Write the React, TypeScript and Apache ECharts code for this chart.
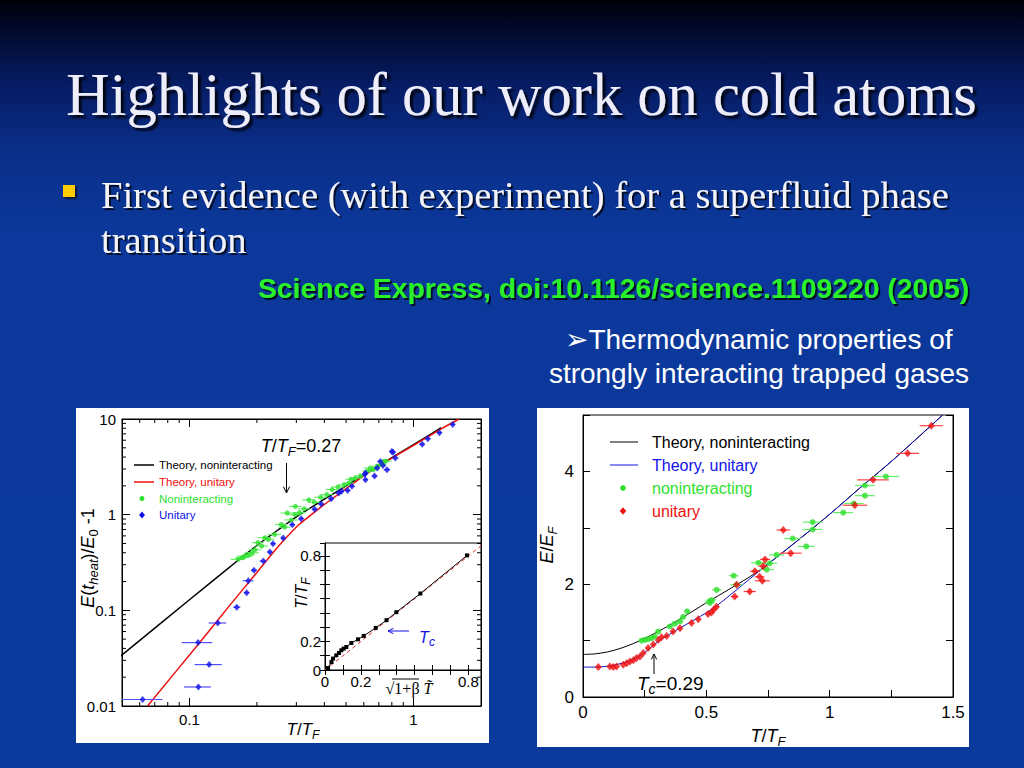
import React, { useEffect, useRef } from 'react';
import * as echarts from 'echarts';

const SANS = '"Liberation Sans", Arial, Helvetica, sans-serif';
const SERIF = '"Liberation Serif", "Times New Roman", serif';

// ---------- Left chart (log-log) ----------
const L_THEORY_NONINT = [[0.0487,0.0325],[0.1,0.129],[0.1665,0.34],[0.2,0.477],[0.25,0.7],[0.3,0.95],[0.4,1.45],[0.5,2.0],[0.6,2.6],[0.8,3.95],[1.0,5.4],[1.33,8.1]];
const L_THEORY_UNI = [[0.065,0.01],[0.1093,0.044],[0.15,0.11],[0.2,0.249],[0.238,0.41],[0.26,0.52],[0.282,0.64],[0.31,0.8],[0.35,1.0],[0.4,1.28],[0.45,1.56],[0.5,1.87],[0.6,2.55],[0.8,3.9],[1.0,5.3],[1.33,7.9],[1.6,10]];
// [x, y, half width of error bar]
const L_NONINT_DATA = [[0.165,0.341,0.012],[0.172,0.355,0.012],[0.177,0.369,0.014],[0.184,0.38,0.012],[0.19,0.40,0.014],[0.196,0.43,0.012],[0.202,0.51,0.012],[0.21,0.47,0.014],[0.217,0.575,0.015],[0.225,0.55,0.014],[0.24,0.62,0.016],[0.257,0.79,0.016],[0.266,0.74,0.016],[0.273,1.04,0.018],[0.285,0.88,0.02],[0.296,1.0,0.02],[0.297,1.22,0.018],[0.31,1.05,0.02],[0.325,1.15,0.02],[0.341,1.43,0.022],[0.36,1.35,0.022],[0.385,1.52,0.025],[0.41,1.62,0.025],[0.433,1.83,0.028],[0.46,1.95,0.03],[0.49,2.05,0.03],[0.513,2.14,0.03],[0.527,2.34,0.03],[0.549,2.41,0.035],[0.58,2.55,0.035],[0.625,2.85,0.035],[0.64,3.07,0.04],[0.66,2.95,0.04],[0.688,3.2,0.04],[0.716,3.35,0.04],[0.735,3.6,0.04],[0.752,3.63,0.045]];
const L_UNI_DATA = [[0.0618,0.0117,0.014],[0.1096,0.0158,0.015],[0.1224,0.0271,0.017],[0.1093,0.046,0.017],[0.1338,0.0737,0.012],[0.1626,0.108,0.006],[0.18,0.153,0.005],[0.183,0.204,0.01],[0.194,0.262,0.006],[0.2135,0.327,0.008],[0.2286,0.406,0.006],[0.236,0.498,0.006],[0.262,0.569,0.006],[0.2877,0.786,0.008],[0.315,0.908,0.008],[0.362,1.14,0.01],[0.387,1.29,0.01],[0.429,1.47,0.012],[0.464,1.68,0.012],[0.477,1.76,0.012],[0.508,1.79,0.014],[0.531,1.98,0.014],[0.606,2.64,0.015],[0.61,2.32,0.015],[0.61,2.72,0.015],[0.67,2.53,0.02],[0.688,3.07,0.02],[0.711,3.6,0.02],[0.731,3.27,0.02],[0.761,2.95,0.025],[0.80,4.58,0.02],[0.81,4.5,0.02],[0.829,3.9,0.025],[1.093,5.43,0.03],[1.158,6.22,0.03],[1.305,7.2,0.03],[1.496,8.78,0.03]];
const L_X_MINOR = [0.06,0.07,0.08,0.09,0.2,0.3,0.4,0.5,0.6,0.7,0.8,0.9];
const L_Y_MINOR = [0.02,0.03,0.04,0.05,0.06,0.07,0.08,0.09,0.2,0.3,0.4,0.5,0.6,0.7,0.8,0.9,2,3,4,5,6,7,8,9];

// ---------- Inset ----------
const INSET_POINTS = [[0.017,0.014],[0.036,0.056],[0.045,0.08],[0.063,0.103],[0.078,0.119],[0.091,0.138],[0.104,0.15],[0.119,0.161],[0.147,0.189],[0.184,0.215],[0.216,0.239],[0.283,0.295],[0.343,0.349],[0.398,0.405],[0.532,0.536],[0.792,0.803]];
const INSET_DIAG = [[0,0],[0.89,0.89]];
const INSET_LABELS = [0, 0.2, 0.8];

// ---------- Right chart ----------
const R_THEORY_NONINT = [[0,0.755],[0.05,0.765],[0.1,0.8],[0.15,0.86],[0.2,0.94],[0.25,1.04],[0.3,1.15],[0.35,1.27],[0.4,1.40],[0.5,1.67],[0.6,1.93],[0.7,2.2],[0.8,2.53],[0.9,2.88],[1.0,3.24],[1.121,3.7],[1.256,4.2],[1.458,5.0]];
const R_THEORY_UNI = [[0,0.53],[0.05,0.53],[0.1,0.545],[0.15,0.59],[0.2,0.66],[0.25,0.79],[0.3,0.97],[0.35,1.11],[0.4,1.24],[0.46,1.39],[0.527,1.57],[0.6,1.82],[0.7,2.18],[0.8,2.53],[0.9,2.88],[1.0,3.24],[1.121,3.7],[1.256,4.2],[1.458,5.0]];
const R_NONINT_DATA = [[0.2375,1.0,0.01],[0.251,1.014,0.01],[0.264,1.026,0.01],[0.278,1.044,0.01],[0.291,1.073,0.01],[0.305,1.16,0.01],[0.352,1.25,0.012],[0.372,1.30,0.012],[0.393,1.34,0.012],[0.406,1.42,0.012],[0.422,1.52,0.012],[0.514,1.67,0.02],[0.515,1.70,0.02],[0.521,1.72,0.02],[0.542,1.90,0.02],[0.611,2.15,0.02],[0.622,1.99,0.025],[0.711,2.38,0.03],[0.745,2.26,0.03],[0.757,2.37,0.03],[0.785,2.52,0.03],[0.85,2.81,0.034],[0.905,2.67,0.034],[0.931,3.10,0.04],[0.931,2.97,0.04],[1.055,3.27,0.04],[1.098,3.43,0.04],[1.143,3.57,0.04],[1.143,3.75,0.04],[1.228,3.91,0.054]];
const R_UNI_DATA = [[0.062,0.53,0],[0.109,0.54,0],[0.123,0.53,0],[0.136,0.54,0],[0.163,0.57,0],[0.177,0.60,0],[0.19,0.63,0],[0.204,0.65,0],[0.217,0.69,0],[0.231,0.72,0],[0.244,0.78,0],[0.264,0.87,0.005],[0.285,0.93,0.005],[0.305,1.01,0.005],[0.318,1.06,0.005],[0.339,1.08,0.005],[0.365,1.16,0.005],[0.393,1.22,0.006],[0.44,1.31,0.006],[0.467,1.38,0.006],[0.507,1.47,0.01],[0.521,1.50,0.01],[0.53,1.55,0.01],[0.541,1.60,0.01],[0.615,1.78,0.015],[0.623,1.99,0.015],[0.676,1.87,0.025],[0.697,2.23,0.02],[0.716,2.13,0.02],[0.727,2.06,0.03],[0.73,2.32,0.02],[0.738,2.44,0.02],[0.812,2.96,0.027],[0.842,2.55,0.044],[1.102,3.40,0.05],[1.176,3.85,0.064],[1.316,4.32,0.046],[1.412,4.81,0.047]];
const R_X_LABELS = [0, 0.5, 1, 1.5];
const R_Y_LABELS = [0, 2, 4];

const C_GREEN = '#2ee02e';
const C_GREEN_BAR = '#66f066';
const C_BLUE = '#1010e8';
const C_BLUE_BAR = '#5050ff';
const C_RED = '#ee1010';
const C_RED_BAR = '#ff4040';

function pickLabel(list: number[]) {
  return (v: number) => {
    const r = Math.round(v * 1000) / 1000;
    return list.some((l) => Math.abs(l - r) < 1e-6) ? String(r) : '';
  };
}

function errBars(data: number[][], color: string, xi: number, yi: number) {
  return {
    type: 'custom', xAxisIndex: xi, yAxisIndex: yi, data, clip: true, silent: true, z: 3,
    encode: { x: 0, y: 1 },
    renderItem: (params: any, api: any) => {
      const x = api.value(0), y = api.value(1), e = api.value(2);
      if (!e) return { type: 'group', children: [] };
      const a = api.coord([x - e, y]);
      const b = api.coord([x + e, y]);
      return { type: 'line', shape: { x1: a[0], y1: a[1], x2: b[0], y2: b[1] }, style: { stroke: color, lineWidth: 1.2 } };
    },
  };
}

function minorTicks(values: number[], axis: 'x' | 'y', len: number) {
  return {
    type: 'custom', xAxisIndex: 0, yAxisIndex: 0, silent: true, clip: false, z: 4,
    data: values.map((v) => (axis === 'x' ? [v, 1] : [0.1, v])),
    encode: { x: 0, y: 1 },
    renderItem: (params: any, api: any) => {
      const p = api.coord([api.value(0), api.value(1)]);
      const cs = params.coordSys;
      const st = { stroke: '#000', lineWidth: 1 };
      if (axis === 'x') {
        const b = cs.y + cs.height, t = cs.y;
        return { type: 'group', children: [
          { type: 'line', shape: { x1: p[0], y1: b, x2: p[0], y2: b - len }, style: st },
          { type: 'line', shape: { x1: p[0], y1: t, x2: p[0], y2: t + len }, style: st },
        ] };
      }
      const l = cs.x, r = cs.x + cs.width;
      return { type: 'group', children: [
        { type: 'line', shape: { x1: l, y1: p[1], x2: l + len, y2: p[1] }, style: st },
        { type: 'line', shape: { x1: r, y1: p[1], x2: r - len, y2: p[1] }, style: st },
      ] };
    },
  };
}

function rich(fs: number, color: string) {
  const sub = Math.round(fs * 0.72);
  return {
    i: { fontSize: fs, fontStyle: 'italic', fontFamily: SANS, fill: color, lineHeight: fs + 6 },
    n: { fontSize: fs, fontFamily: SANS, fill: color, lineHeight: fs + 6 },
    s: { fontSize: sub, fontStyle: 'italic', fontFamily: SANS, fill: color, lineHeight: sub, verticalAlign: 'bottom' },
    s0: { fontSize: sub, fontFamily: SANS, fill: color, lineHeight: sub, verticalAlign: 'bottom' },
    r: { fontSize: fs, fontFamily: SERIF, fill: color, lineHeight: fs + 6 },
    ri: { fontSize: fs, fontFamily: SERIF, fontStyle: 'italic', fill: color, lineHeight: fs + 6 },
  };
}

function richText(x: number, y: number, text: string, fs: number, color: string, rot = 0, align = 'center') {
  return {
    type: 'text', x, y, rotation: rot, silent: true, z: 20,
    style: { text, rich: rich(fs, color), align, verticalAlign: 'middle', fontSize: fs, fontFamily: SANS, fill: color },
  };
}

function plainText(x: number, y: number, text: string, style: any) {
  return { type: 'text', x, y, silent: true, z: 20, style: { text, align: 'left', verticalAlign: 'middle', ...style } };
}

function arrow(x1: number, y1: number, x2: number, y2: number, color: string, head = 5) {
  const ang = Math.atan2(y2 - y1, x2 - x1);
  const hx1 = x2 - head * Math.cos(ang - 0.45), hy1 = y2 - head * Math.sin(ang - 0.45);
  const hx2 = x2 - head * Math.cos(ang + 0.45), hy2 = y2 - head * Math.sin(ang + 0.45);
  return [
    { type: 'line', silent: true, z: 20, shape: { x1, y1, x2, y2 }, style: { stroke: color, lineWidth: 1 } },
    { type: 'polyline', silent: true, z: 20, shape: { points: [[hx1, hy1], [x2, y2], [hx2, hy2]] }, style: { stroke: color, lineWidth: 1, fill: null } },
  ];
}

function diamond(x: number, y: number, r: number, color: string) {
  return { type: 'polygon', silent: true, z: 20, shape: { points: [[x, y - r], [x + r * 0.85, y], [x, y + r], [x - r * 0.85, y]] }, style: { fill: color } };
}

function buildOption() {
  const axisCommon = {
    axisLine: { lineStyle: { color: '#000', width: 1 } },
    splitLine: { show: false },
    axisLabel: { color: '#000', fontFamily: SANS },
  };
  const logX = (pos: string, show: boolean) => ({
    ...axisCommon, type: 'log', logBase: 10, gridIndex: 0, position: pos, min: 0.05, max: 2,
    axisTick: { inside: true, length: 8, lineStyle: { color: '#000' } },
    axisLabel: { show, color: '#000', fontFamily: SANS, fontSize: 15, margin: 6, showMinLabel: false, showMaxLabel: false },
  });
  const logY = (pos: string, show: boolean) => ({
    ...axisCommon, type: 'log', logBase: 10, gridIndex: 0, position: pos, min: 0.01, max: 10,
    axisTick: { inside: true, length: 8, lineStyle: { color: '#000' } },
    axisLabel: { show, color: '#000', fontFamily: SANS, fontSize: 15, margin: 6 },
  });
  const insetAxis = (dim: 'x' | 'y', pos: string, show: boolean) => ({
    ...axisCommon, type: 'value', gridIndex: 1, position: pos, min: 0, max: dim === 'x' ? 0.87 : 0.89, interval: 0.1,
    axisTick: { inside: true, length: 5, lineStyle: { color: '#000' } },
    axisLabel: { show, color: '#000', fontFamily: SANS, fontSize: 15, margin: 4, showMaxLabel: false, formatter: pickLabel(INSET_LABELS) },
  });
  const slideShadow = { textShadowColor: 'rgba(0,0,0,0.75)', textShadowOffsetX: 2, textShadowOffsetY: 2, textShadowBlur: 1 };

  const graphic: any[] = [
    { type: 'rect', silent: true, z: -10, shape: { x: 76, y: 408, width: 413, height: 335 }, style: { fill: '#fff' } },
    { type: 'rect', silent: true, z: -10, shape: { x: 537, y: 408, width: 432, height: 339 }, style: { fill: '#fff' } },
    // slide texts
    plainText(66, 94, 'Highlights of our work on cold atoms', { fill: '#eeeefa', fontSize: 60.5, fontFamily: SERIF, textShadowColor: 'rgba(0,0,0,0.85)', textShadowOffsetX: 3, textShadowOffsetY: 3, textShadowBlur: 2 }),
    { type: 'rect', silent: true, z: 20, shape: { x: 63, y: 185, width: 12, height: 12 }, style: { fill: '#ffcc00', shadowColor: 'rgba(0,0,0,0.6)', shadowOffsetX: 2, shadowOffsetY: 2, shadowBlur: 2 } },
    plainText(101, 195, 'First evidence (with experiment) for a superfluid phase', { fill: '#f4f4f8', fontSize: 38.5, fontFamily: SERIF, ...slideShadow }),
    plainText(101, 240, 'transition', { fill: '#f4f4f8', fontSize: 38.5, fontFamily: SERIF, ...slideShadow }),
    plainText(258, 288, 'Science Express, doi:10.1126/science.1109220 (2005)', { fill: '#2cf02c', fontSize: 28.3, fontWeight: 'bold', fontFamily: SANS, ...slideShadow }),
    plainText(759, 339, '\u27A2Thermodynamic properties of', { fill: '#ffffff', fontSize: 28, fontFamily: SANS, align: 'center' }),
    plainText(759, 373, 'strongly interacting trapped gases', { fill: '#ffffff', fontSize: 28, fontFamily: SANS, align: 'center' }),

    // left chart texts
    richText(88, 558, '{i|E}{n|(}{i|t}{s|heat}{n|)/}{i|E}{s0|0}{n| -1}', 18, '#000', Math.PI / 2),
    richText(303, 729, '{i|T}{n|/}{i|T}{s|F}', 17, '#000'),
    richText(301, 446, '{i|T}{n|/}{i|T}{s|F}{n|=0.27}', 18, '#000'),
    ...arrow(286.5, 463, 286.5, 493, '#000', 7),
    // left legend
    { type: 'line', silent: true, z: 20, shape: { x1: 134, y1: 465, x2: 154, y2: 465 }, style: { stroke: '#000', lineWidth: 1.5 } },
    plainText(159, 465, 'Theory, noninteracting', { fill: '#000', fontSize: 11.5, fontFamily: SANS }),
    { type: 'line', silent: true, z: 20, shape: { x1: 134, y1: 482, x2: 154, y2: 482 }, style: { stroke: C_RED, lineWidth: 1.5 } },
    plainText(159, 482, 'Theory, unitary', { fill: C_RED, fontSize: 11.5, fontFamily: SANS }),
    { type: 'circle', silent: true, z: 20, shape: { cx: 142, cy: 498.5, r: 2.5 }, style: { fill: C_GREEN } },
    plainText(159, 498.5, 'Noninteracting', { fill: C_GREEN, fontSize: 11.5, fontFamily: SANS }),
    diamond(142, 515, 3.5, C_BLUE),
    plainText(159, 515, 'Unitary', { fill: C_BLUE, fontSize: 11.5, fontFamily: SANS }),

    // inset texts
    richText(301, 593, '{i|T}{n|/}{i|T}{s|F}', 16, '#000', Math.PI / 2),
    richText(409, 688, '{r|\u221A1+\u03B2 }{ri|T\u0303}', 16, '#000'),
    { type: 'line', silent: true, z: 20, shape: { x1: 392, y1: 679, x2: 419, y2: 679 }, style: { stroke: '#000', lineWidth: 1 } },
    richText(427, 637, '{i|T}{s|c}', 16, C_BLUE),
    ...arrow(409, 631, 388, 631, C_BLUE, 6),

    // right chart texts
    richText(547, 545, '{i|E}{n|/}{i|E}{s|F}', 18, '#000', Math.PI / 2),
    richText(768, 736, '{i|T}{n|/}{i|T}{s|F}', 18, '#000'),
    richText(637, 683, '{i|T}{s|c}{n|=0.29}', 19, '#000', 0, 'left'),
    ...arrow(654, 674, 654, 654, '#000', 6),
    // right legend
    { type: 'line', silent: true, z: 20, shape: { x1: 610, y1: 442, x2: 638, y2: 442 }, style: { stroke: '#000', lineWidth: 1 } },
    plainText(652, 442, 'Theory, noninteracting', { fill: '#000', fontSize: 16, fontFamily: SANS }),
    { type: 'line', silent: true, z: 20, shape: { x1: 610, y1: 465, x2: 638, y2: 465 }, style: { stroke: C_BLUE, lineWidth: 1 } },
    plainText(652, 465, 'Theory, unitary', { fill: C_BLUE, fontSize: 16, fontFamily: SANS }),
    { type: 'circle', silent: true, z: 20, shape: { cx: 623, cy: 488, r: 2.8 }, style: { fill: C_GREEN } },
    plainText(652, 488, 'noninteracting', { fill: C_GREEN, fontSize: 16, fontFamily: SANS }),
    diamond(623, 511, 3.8, C_RED),
    plainText(652, 511, 'unitary', { fill: C_RED, fontSize: 16, fontFamily: SANS }),
  ];

  return {
    animation: false,
    backgroundColor: 'transparent',
    grid: [
      { left: 122, top: 419, width: 359, height: 287, show: true, borderColor: '#000', borderWidth: 1, backgroundColor: 'transparent' },
      { left: 325, top: 543, width: 156, height: 127, show: true, borderColor: '#000', borderWidth: 1, backgroundColor: '#fff' },
      { left: 583, top: 415, width: 370, height: 282, show: true, borderColor: '#000', borderWidth: 1, backgroundColor: 'transparent' },
    ],
    xAxis: [
      logX('bottom', true),
      logX('top', false),
      insetAxis('x', 'bottom', true),
      insetAxis('x', 'top', false),
      {
        ...axisCommon, type: 'value', gridIndex: 2, position: 'bottom', min: 0, max: 1.5, interval: 0.25,
        axisTick: { inside: true, length: 7, lineStyle: { color: '#000' } },
        axisLabel: { color: '#000', fontFamily: SANS, fontSize: 17, margin: 7, formatter: pickLabel(R_X_LABELS) },
      },
    ],
    yAxis: [
      logY('left', true),
      logY('right', false),
      insetAxis('y', 'left', true),
      insetAxis('y', 'right', false),
      {
        ...axisCommon, type: 'value', gridIndex: 2, position: 'left', min: 0, max: 5, interval: 1,
        axisTick: { inside: true, length: 7, lineStyle: { color: '#000' } },
        axisLabel: { color: '#000', fontFamily: SANS, fontSize: 17, margin: 9, formatter: pickLabel(R_Y_LABELS) },
      },
      {
        ...axisCommon, type: 'value', gridIndex: 2, position: 'right', min: 0, max: 5, interval: 1,
        axisTick: { inside: true, length: 7, lineStyle: { color: '#000' } },
        axisLabel: { show: false },
      },
    ],
    series: [
      minorTicks(L_X_MINOR, 'x', 4),
      minorTicks(L_Y_MINOR, 'y', 4),
      { type: 'line', name: 'L theory noninteracting', xAxisIndex: 0, yAxisIndex: 0, data: L_THEORY_NONINT, showSymbol: false, symbol: 'none', smooth: 0.2, lineStyle: { color: '#000', width: 1.5 }, z: 2 },
      { type: 'line', name: 'L theory unitary', xAxisIndex: 0, yAxisIndex: 0, data: L_THEORY_UNI, showSymbol: false, symbol: 'none', smooth: 0.2, lineStyle: { color: C_RED, width: 1.5 }, z: 2 },
      errBars(L_NONINT_DATA, C_GREEN_BAR, 0, 0),
      { type: 'scatter', name: 'L noninteracting', xAxisIndex: 0, yAxisIndex: 0, data: L_NONINT_DATA.map((p) => [p[0], p[1]]), symbol: 'circle', symbolSize: 5, itemStyle: { color: C_GREEN }, z: 4 },
      errBars(L_UNI_DATA, C_BLUE_BAR, 0, 0),
      { type: 'scatter', name: 'L unitary', xAxisIndex: 0, yAxisIndex: 0, data: L_UNI_DATA.map((p) => [p[0], p[1]]), symbol: 'diamond', symbolSize: [6, 7], itemStyle: { color: C_BLUE }, z: 5 },

      { type: 'line', name: 'Inset diagonal', xAxisIndex: 2, yAxisIndex: 2, data: INSET_DIAG, showSymbol: false, symbol: 'none', lineStyle: { color: '#e03030', width: 1, type: [4, 3] }, z: 6 },
      { type: 'line', name: 'Inset data', xAxisIndex: 2, yAxisIndex: 2, data: INSET_POINTS, symbol: 'rect', symbolSize: 4, showSymbol: true, lineStyle: { color: '#000', width: 1 }, itemStyle: { color: '#000' }, z: 7 },

      { type: 'line', name: 'R theory noninteracting', xAxisIndex: 4, yAxisIndex: 4, data: R_THEORY_NONINT, showSymbol: false, symbol: 'none', smooth: 0.3, lineStyle: { color: '#000', width: 1 }, z: 2 },
      { type: 'line', name: 'R theory unitary', xAxisIndex: 4, yAxisIndex: 4, data: R_THEORY_UNI, showSymbol: false, symbol: 'none', smooth: 0.3, lineStyle: { color: '#1010c8', width: 1 }, z: 2 },
      errBars(R_NONINT_DATA, C_GREEN_BAR, 4, 4),
      { type: 'scatter', name: 'R noninteracting', xAxisIndex: 4, yAxisIndex: 4, data: R_NONINT_DATA.map((p) => [p[0], p[1]]), symbol: 'circle', symbolSize: 6, itemStyle: { color: C_GREEN }, z: 4 },
      errBars(R_UNI_DATA, C_RED_BAR, 4, 4),
      { type: 'scatter', name: 'R unitary', xAxisIndex: 4, yAxisIndex: 4, data: R_UNI_DATA.map((p) => [p[0], p[1]]), symbol: 'diamond', symbolSize: [7, 8], itemStyle: { color: C_RED }, z: 5 },
    ],
    graphic: { elements: graphic },
  };
}

export default function App() {
  const ref = useRef<HTMLDivElement>(null);
  useEffect(() => {
    if (!ref.current) return;
    const chart = echarts.init(ref.current, null, { renderer: 'svg' });
    chart.setOption(buildOption() as any);
    return () => chart.dispose();
  }, []);
  return (
    <div
      ref={ref}
      style={{
        position: 'fixed', left: 0, top: 0, width: 1024, height: 768,
        background: 'linear-gradient(to bottom, #000008 0px, #020a2c 30px, #061c64 85px, #0a2e88 150px, #0b389a 230px, #0b3a9c 768px)',
      }}
    />
  );
}
